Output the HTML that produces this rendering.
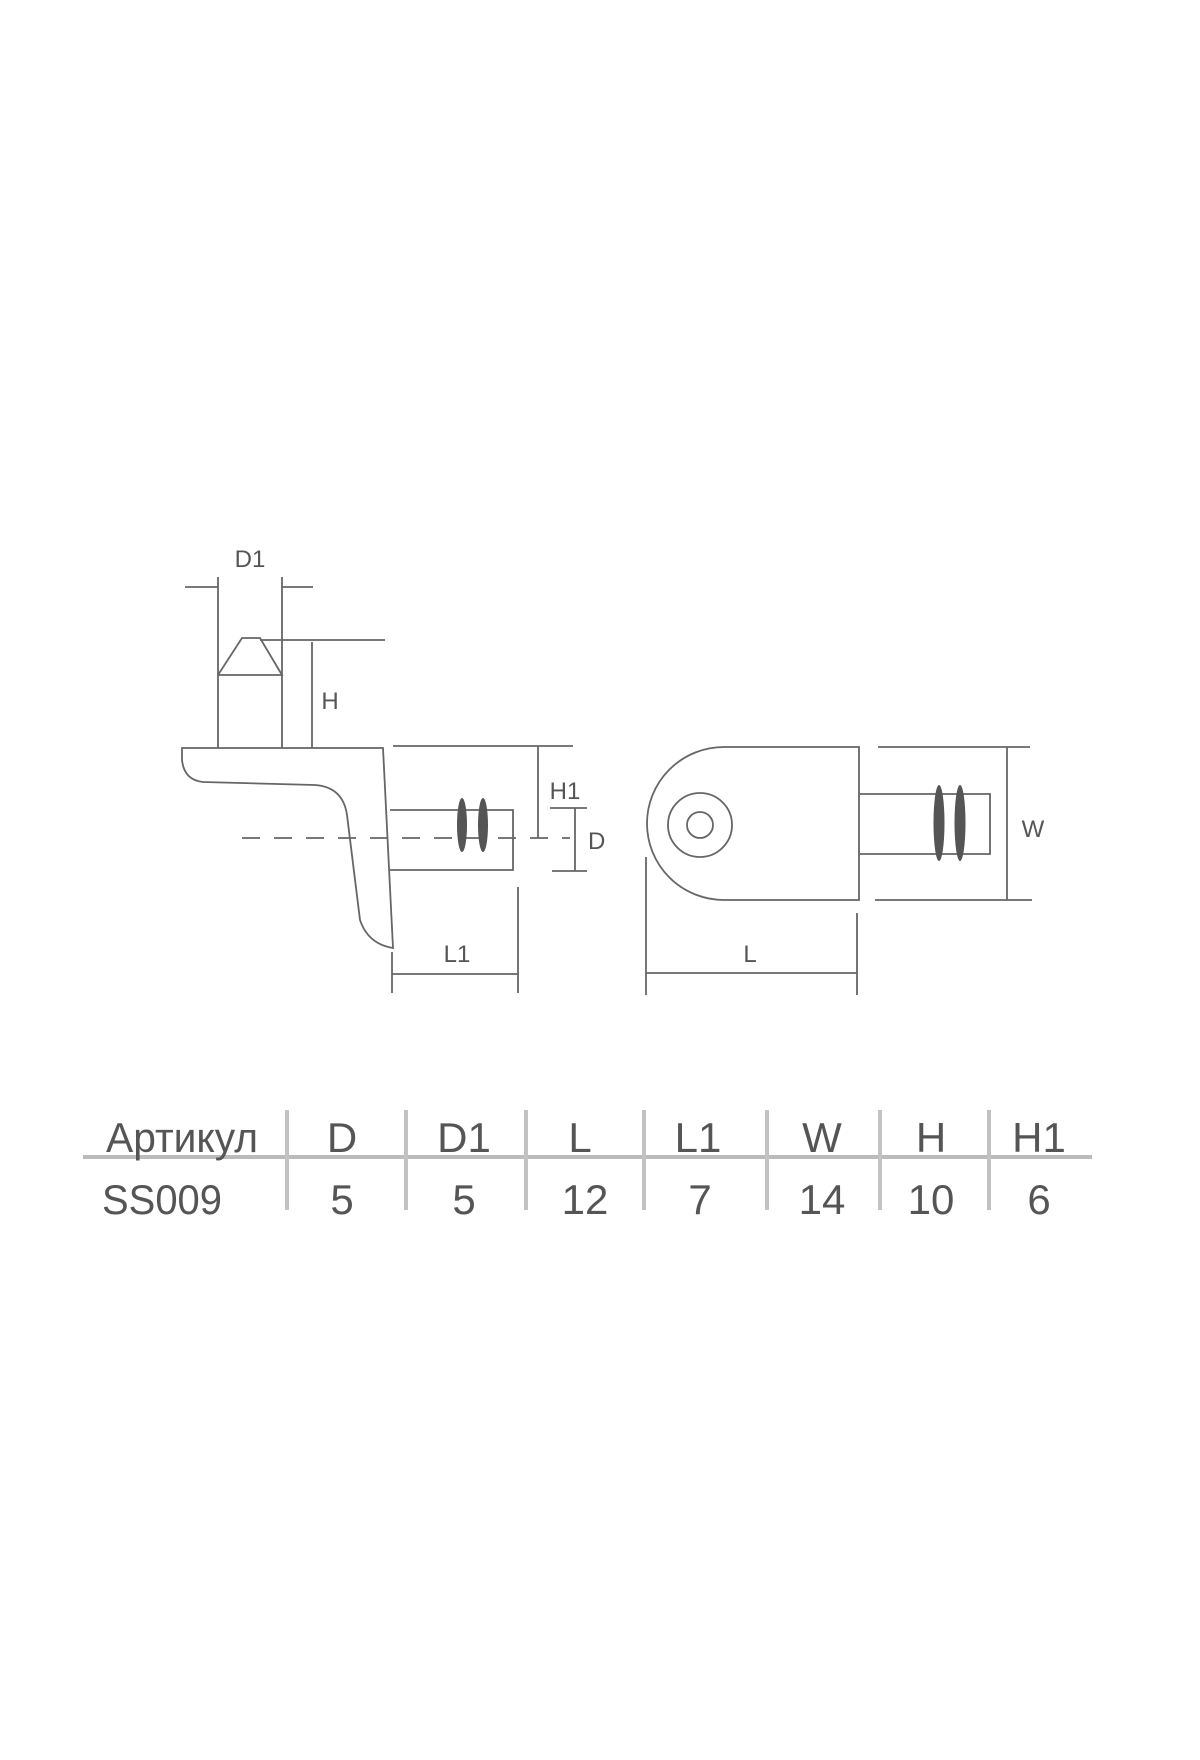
<!DOCTYPE html>
<html><head><meta charset="utf-8"><style>
html,body{margin:0;padding:0;background:#fff;}
svg{display:block;}
text{font-family:"Liberation Sans",sans-serif;fill:#555;}
</style></head><body>
<svg width="1200" height="1760" viewBox="0 0 1200 1760" xmlns="http://www.w3.org/2000/svg">
<g fill="none" stroke="#666" stroke-width="1.8">
<line x1="185" y1="587" x2="218" y2="587"/>
<line x1="282" y1="587" x2="313" y2="587"/>
<line x1="218" y1="577" x2="218" y2="748"/>
<line x1="282" y1="577" x2="282" y2="748"/>
<polyline points="218,675 242,638 260,638 282,675 218,675"/>
<line x1="260" y1="640" x2="385" y2="640"/>
<line x1="312" y1="642" x2="312" y2="748"/>
<path d="M182,748 L383,748 L393,948 Q368,944 360,920 L347,815 Q343,787 315,785 L203,782 Q184,780 182,760 Z"/>
<polyline points="390,810 513,810 513,870 390,870"/>
<line x1="242" y1="838" x2="570" y2="838" stroke-dasharray="18,14"/>
<line x1="393" y1="746" x2="573" y2="746"/>
<line x1="538" y1="746" x2="538" y2="838"/>
<line x1="550" y1="808" x2="587" y2="808"/>
<line x1="552" y1="871" x2="587" y2="871"/>
<line x1="575" y1="808" x2="575" y2="871"/>
<line x1="392" y1="952" x2="392" y2="993"/>
<line x1="518" y1="887" x2="518" y2="993"/>
<line x1="392" y1="974" x2="518" y2="974"/>
<path d="M724,747 L859,747 L859,900 L724,900 A77,76.5 0 0 1 724,747 Z"/>
<circle cx="700" cy="825" r="32"/>
<circle cx="700" cy="825" r="13"/>
<polyline points="859,794 990,794 990,854 859,854"/>
<line x1="878" y1="747" x2="1030" y2="747"/>
<line x1="875" y1="900" x2="1032" y2="900"/>
<line x1="1007" y1="747" x2="1007" y2="900"/>
<line x1="646" y1="857" x2="646" y2="995"/>
<line x1="857" y1="913" x2="857" y2="995"/>
<line x1="646" y1="973" x2="857" y2="973"/>
</g>
<g fill="#555">
<ellipse cx="462" cy="825" rx="5" ry="27"/>
<ellipse cx="483" cy="825" rx="5" ry="27"/>
<ellipse cx="939" cy="823" rx="5.5" ry="38"/>
<ellipse cx="960" cy="823" rx="5.5" ry="38"/>
</g>
<g font-size="24" text-anchor="middle">
<text x="250" y="567">D1</text>
<text x="330" y="709">H</text>
<text x="565" y="799">H1</text>
<text x="588" y="849" text-anchor="start">D</text>
<text x="457" y="962">L1</text>
<text x="750" y="962">L</text>
<text x="1033" y="837">W</text>
</g>
<line x1="83" y1="1157" x2="1092" y2="1157" stroke="#bbb" stroke-width="4"/>
<g stroke="#c2c2c2" stroke-width="4">
<line x1="287" y1="1110" x2="287" y2="1210"/>
<line x1="406" y1="1110" x2="406" y2="1210"/>
<line x1="526" y1="1110" x2="526" y2="1210"/>
<line x1="644" y1="1110" x2="644" y2="1210"/>
<line x1="767" y1="1110" x2="767" y2="1210"/>
<line x1="880" y1="1110" x2="880" y2="1210"/>
<line x1="989" y1="1110" x2="989" y2="1210"/>
</g>
<g font-size="42" text-anchor="middle">
<text x="106" y="1152" text-anchor="start" textLength="152" lengthAdjust="spacingAndGlyphs">Артикул</text>
<text x="342" y="1152">D</text>
<text x="464" y="1152">D1</text>
<text x="580" y="1152">L</text>
<text x="698" y="1152">L1</text>
<text x="822" y="1152">W</text>
<text x="931" y="1152">H</text>
<text x="1039" y="1152">H1</text>
<text x="102" y="1214" text-anchor="start" textLength="120" lengthAdjust="spacingAndGlyphs">SS009</text>
<text x="342" y="1214">5</text>
<text x="464" y="1214">5</text>
<text x="585" y="1214">12</text>
<text x="700" y="1214">7</text>
<text x="822" y="1214">14</text>
<text x="931" y="1214">10</text>
<text x="1039" y="1214">6</text>
</g>
</svg>
</body></html>
